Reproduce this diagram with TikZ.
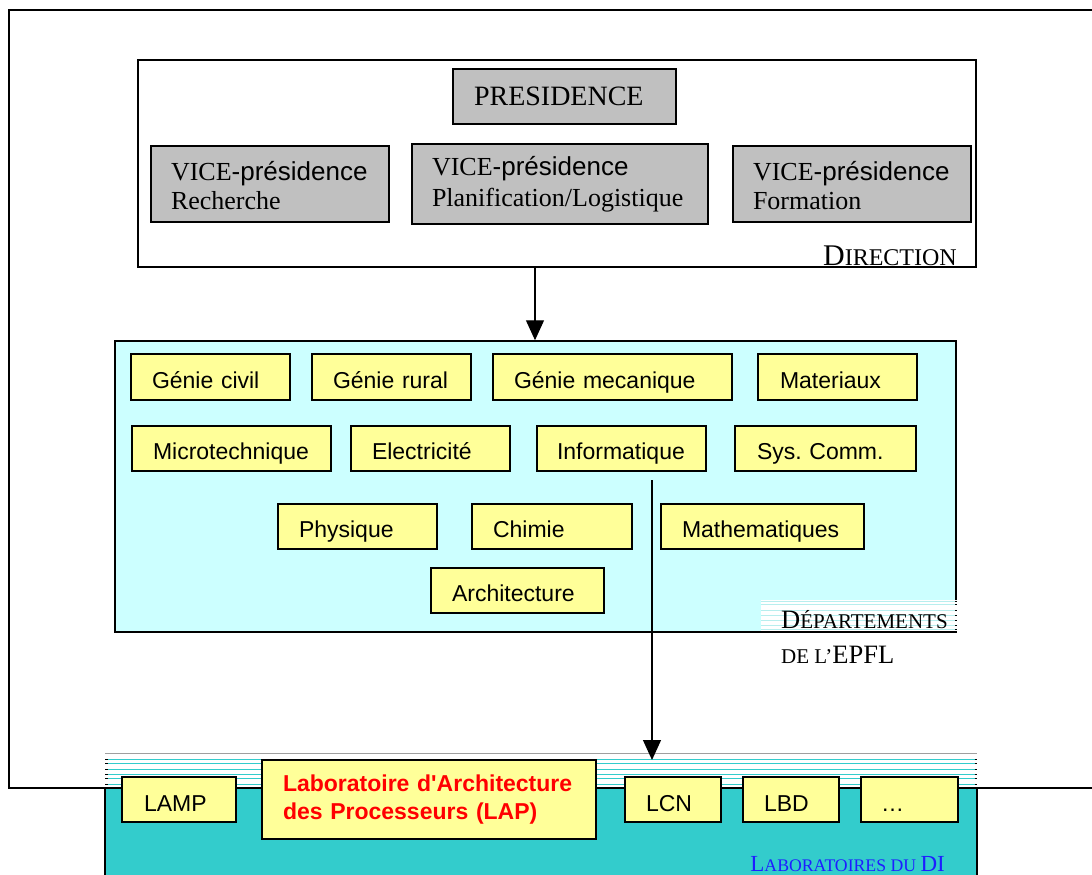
\documentclass[tikz,border=0pt]{standalone}
\usepackage{fontspec}
\setmainfont{Liberation Serif}
\setsansfont{Liberation Sans}[Ligatures=TeXOff]
\usetikzlibrary{arrows.meta}
\definecolor{vpgray}{HTML}{C0C0C0}
\definecolor{lcyan}{HTML}{CCFFFF}
\definecolor{pyellow}{HTML}{FFFF99}
\definecolor{teal}{HTML}{33CCCC}
\definecolor{stripe}{HTML}{B8EEEE}
\definecolor{lblue}{HTML}{1E1EFF}
\newcommand{\fs}[1]{\fontsize{#1}{#1}\selectfont}
\frenchspacing
\begin{document}
\begin{tikzpicture}[x=1pt,y=-1pt,
  frame/.style={draw=black,line width=1.5pt},
  vpbox/.style={draw=black,line width=1.5pt,fill=vpgray,inner sep=0pt,font=\fs{26},align=left},
  deptbox/.style={draw=black,line width=1.5pt,fill=pyellow,inner sep=0pt,font=\sffamily\fs{23},text height=22pt,text depth=0pt,align=left},
  labbox/.style={draw=black,line width=1.5pt,fill=pyellow,inner sep=0pt,font=\sffamily\fs{23},text height=23pt,text depth=0pt,align=left},
  arr/.style={line width=1.2pt,-{Triangle[width=18pt,length=20pt]}},
  lbl/.style={inner sep=0pt}]
\fill[white] (0,0) rectangle (1092,875);
\useasboundingbox (0,0) rectangle (1092,875);
% outer frame
\draw[frame] (1100,10) -- (9,10) -- (9,788) -- (1100,788);
% direction
\node[frame,fill=white,minimum width=838pt,minimum height=207pt,inner sep=0pt] (direction) at (557,163.5) {};
\node[vpbox,minimum width=223pt,minimum height=55pt,text width=181pt,font=\fs{28}] (pres) at (564.5,96.5) {PRESIDENCE};
\node[vpbox,minimum width=238pt,minimum height=76pt,text width=198pt] (vp1) at (270,184) {\rule{0pt}{22pt}\mbox{VICE{\sffamily -présidence}}\\[3pt]Recherche};
\node[vpbox,minimum width=296pt,minimum height=80pt,text width=256pt] (vp2) at (560,184) {\mbox{VICE{\sffamily -présidence}}\\[5pt]\mbox{Planification/Logistique}};
\node[vpbox,minimum width=238pt,minimum height=76pt,text width=198pt] (vp3) at (852,184) {\rule{0pt}{22pt}\mbox{VICE{\sffamily -présidence}}\\[3pt]Formation};
\node[lbl,anchor=base east] (dirlbl) at (957,265) {\fs{30}D\fs{24}IRECTION};
% departments
\node[frame,fill=lcyan,minimum width=841pt,minimum height=291pt,inner sep=0pt] (depts) at (535.5,486.5) {};
\node[deptbox,minimum width=159pt,minimum height=46pt,text width=117pt] (gc) at (210.5,377) {Génie civil};
\node[deptbox,minimum width=159pt,minimum height=46pt,text width=117pt] (gr) at (391.5,377) {Génie rural};
\node[deptbox,minimum width=239pt,minimum height=46pt,text width=197pt] (gm) at (612.5,377) {Génie mecanique};
\node[deptbox,minimum width=159pt,minimum height=46pt,text width=115pt] (mat) at (837.5,377) {Materiaux};
\node[deptbox,minimum width=199pt,minimum height=45pt,text width=157pt] (micro) at (231.5,448.5) {Microtechnique};
\node[deptbox,minimum width=159pt,minimum height=45pt,text width=117pt] (elec) at (430.5,448.5) {Electricité};
\node[deptbox,minimum width=169pt,minimum height=45pt,text width=129pt] (info) at (621.5,448.5) {Informatique};
\node[deptbox,minimum width=181pt,minimum height=45pt,text width=137pt] (sys) at (825.5,448.5) {\mbox{Sys. Comm.}};
\node[deptbox,minimum width=159pt,minimum height=45pt,text width=117pt] (phys) at (357.5,526.5) {Physique};
\node[deptbox,minimum width=160pt,minimum height=45pt,text width=118pt] (chim) at (552,526.5) {Chimie};
\node[deptbox,minimum width=203pt,minimum height=45pt,text width=161pt] (math) at (762.5,526.5) {Mathematiques};
\node[deptbox,minimum width=173pt,minimum height=45pt,text width=131pt] (archi) at (517.5,590.5) {Architecture};
% label patch in departments
\fill[white] (761,599.5) rectangle (957.5,630.8);
\foreach \yy in {601.7,604.3,610,615,620,625,629}{
  \draw[stripe,line width=0.8pt] (761,\yy) -- (955,\yy);
  \draw[black,line width=0.8pt] (955,\yy) -- (957,\yy);
}
\node[lbl,anchor=base west] (deplbl1) at (781,628) {\fs{26.5}D\fs{21}ÉPARTEMENTS};
\node[lbl,anchor=base west] (deplbl2) at (781,663) {\fs{21}DE L’\fs{26.5}EPFL};
% labs
\draw[gray!75,line width=1pt] (105,753) -- (977,753);
\foreach \yy in {759.3,763.5,769.3,774,778.7,784}{
  \draw[teal,line width=1pt] (105,\yy) -- (977,\yy);
  \draw[black,line width=1pt] (105,\yy) -- (107.5,\yy);
  \draw[black,line width=1pt] (974.5,\yy) -- (977,\yy);
}
\node[frame,fill=teal,minimum width=872pt,minimum height=100pt,inner sep=0pt] (labs) at (541,838) {};
\node[labbox,minimum width=114pt,minimum height=45pt,text width=70pt] (lamp) at (179,799.5) {LAMP};
\node[labbox,minimum width=334pt,minimum height=79pt,text width=292pt,font=\sffamily\bfseries\fs{23},text=red,text height=,text depth=] (lap) at (429,799.5) {\mbox{Laboratoire d'Architecture}\\[5pt]\mbox{des Processeurs (LAP)}};
\node[labbox,minimum width=96pt,minimum height=45pt,text width=54pt] (lcn) at (673,799.5) {LCN};
\node[labbox,minimum width=96pt,minimum height=45pt,text width=54pt] (lbd) at (791,799.5) {LBD};
\node[labbox,minimum width=97pt,minimum height=45pt,text width=57pt] (etc) at (909.5,799.5) {…};
\node[lbl,anchor=base east,text=lblue] (lablbl) at (945,871) {\fs{23}L\fs{17.7}ABORATOIRES DU \fs{23}DI};
% arrows
\coordinate (a1) at (535,300);
\draw[arr] (direction.south -| a1) -- (depts.north -| a1);
\coordinate (b1) at (652,480);
\coordinate (b2) at (652,760);
\draw[arr] (b1) -- (b2);
\end{tikzpicture}
\end{document}
